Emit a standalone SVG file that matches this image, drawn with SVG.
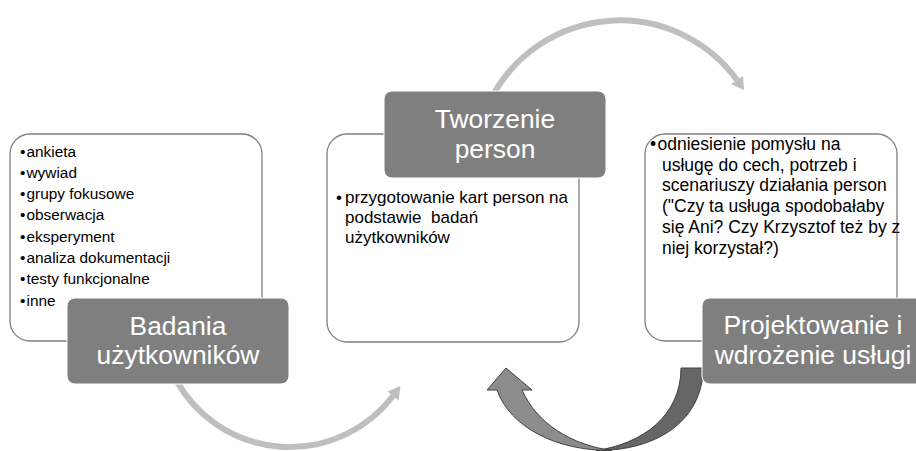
<svg xmlns="http://www.w3.org/2000/svg" width="916" height="451" viewBox="0 0 916 451">
<style>
.box{fill:#ffffff;stroke:#7f7f7f;stroke-width:1.3}
.lbl{fill:#7f7f7f;stroke:#ffffff;stroke-width:1}
.lt{font-family:"Liberation Sans",Arial,sans-serif;font-size:26.4px;fill:#ffffff;text-anchor:middle}
.t{font-family:"Liberation Sans",Arial,sans-serif;fill:#000000}
.arc{fill:none;stroke:#bfbfbf;stroke-width:6}
.head{fill:#bfbfbf}
.big{stroke:#404040;stroke-width:1;stroke-linejoin:round}
</style>
<g id="connectors">
  <path class="arc" d="M493,95 A145 145 0 0 1 737,80"/>
  <polygon class="head" points="744,90 743,76 731,84"/>
  <path class="arc" d="M176,380 A130 130 0 0 0 393,396"/>
  <polygon class="head" points="400.5,386 398.5,400.5 387.5,391.5"/>
  <path class="big" fill="#666666" d="M703,368 C703,418 660,451 596,450.5 C642,444 681,416 681,368 Z"/>
  <path class="big" fill="#8c8c8c" d="M612,450.5 C556,451 510,427 497,390 L487,390 L506,368 L532,390 L522,390 C537,424 572,445 612,450.5 Z"/>
</g>
<g id="node-badania">
  <rect class="box" x="10" y="134" width="252" height="207" rx="20"/>
  <g class="t" font-size="15.4">
    <text x="20" y="156.5">•</text><text x="26.5" y="156.5">ankieta</text>
    <text x="20" y="177.8">•</text><text x="26.5" y="177.8">wywiad</text>
    <text x="20" y="199.1">•</text><text x="26.5" y="199.1">grupy fokusowe</text>
    <text x="20" y="220.4">•</text><text x="26.5" y="220.4">obserwacja</text>
    <text x="20" y="241.7">•</text><text x="26.5" y="241.7">eksperyment</text>
    <text x="20" y="263">•</text><text x="26.5" y="263">analiza dokumentacji</text>
    <text x="20" y="284.3">•</text><text x="26.5" y="284.3">testy funkcjonalne</text>
    <text x="20" y="305.6">•</text><text x="26.5" y="305.6">inne</text>
  </g>
  <rect class="lbl" x="67" y="298" width="222" height="86" rx="8"/>
  <text class="lt" x="178" y="335">Badania</text>
  <text class="lt" x="178" y="364">użytkowników</text>
</g>
<g id="node-tworzenie">
  <rect class="box" x="327" y="134" width="252" height="208" rx="20"/>
  <g class="t" font-size="17">
    <text x="336" y="203">•</text><text x="345" y="203">przygotowanie kart person na</text>
    <text x="345" y="223" xml:space="preserve">podstawie  badań</text>
    <text x="345" y="243">użytkowników</text>
  </g>
  <rect class="lbl" x="384" y="91" width="222" height="87" rx="8"/>
  <text class="lt" x="495" y="127.5">Tworzenie</text>
  <text class="lt" x="495" y="157.5">person</text>
</g>
<g id="node-projektowanie">
  <rect class="box" x="645" y="134" width="252" height="207" rx="20"/>
  <g class="t" font-size="17.5">
    <text x="650" y="149.5">•</text><text x="657.5" y="149.5">odniesienie pomysłu na</text>
    <text x="662" y="170.5">usługę do cech, potrzeb i</text>
    <text x="662" y="191.3">scenariuszy działania person</text>
    <text x="662" y="212.1">("Czy ta usługa spodobałaby</text>
    <text x="662" y="232.9">się Ani? Czy Krzysztof też by z</text>
    <text x="662" y="253.7">niej korzystał?)</text>
  </g>
  <rect class="lbl" x="702" y="298" width="222" height="86" rx="8"/>
  <text class="lt" x="813" y="334">Projektowanie i</text>
  <text class="lt" x="813" y="363.5">wdrożenie usługi</text>
</g>
</svg>
